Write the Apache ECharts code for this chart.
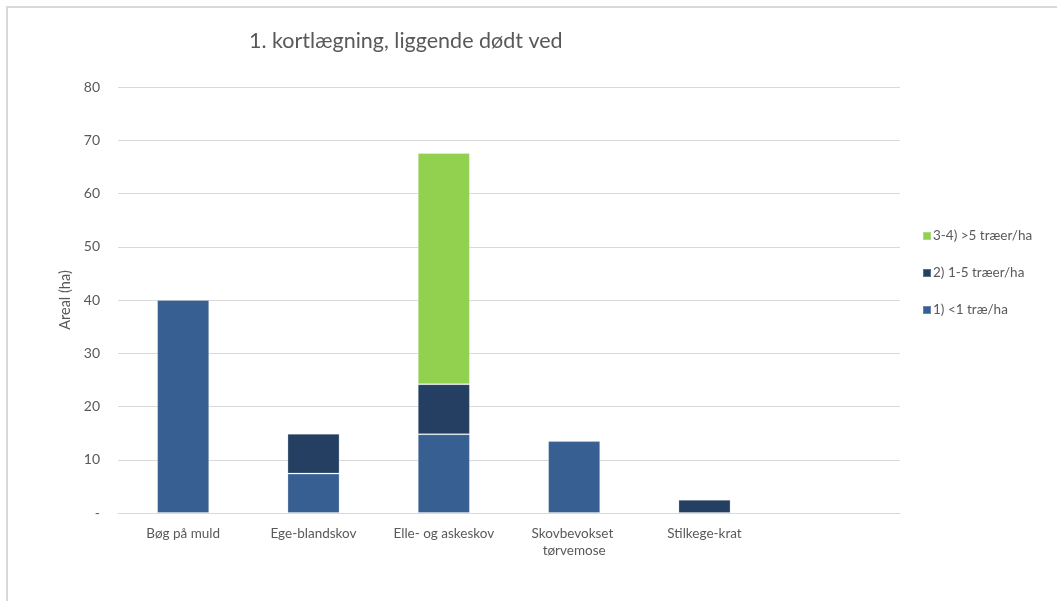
<!DOCTYPE html>
<html>
<head>
<meta charset="utf-8">
<script src="https://cdn.jsdelivr.net/npm/echarts@6/dist/echarts.min.js"></script>
<style>
  html, body { margin: 0; padding: 0; background: #fff; }
  #frame { position: absolute; left: 6px; top: 6px; width: 1060px; height: 610px;
           border-left: 2px solid #d9d9d9; border-top: 2px solid #d9d9d9; box-sizing: border-box; }
  #chart { position: absolute; left: 0; top: 0; width: 1057px; height: 601px; }
</style>
</head>
<body>
<div id="frame"></div>
<div id="chart"></div>
<script>
// Forest types (last slot is intentionally empty)
const categories = ['Bøg på muld', 'Ege-blandskov', 'Elle- og askeskov', 'Skovbevokset tørvemose', 'Stilkege-krat', ''];

// Area (ha) per dead-wood class
const under1 = [40.0, 7.4, 14.8, 13.5, 0, null];
const from1to5 = [0, 7.5, 9.4, 0, 2.5, null];
const over5 = [0, 0, 43.4, 0, 0, null];

const seriesNames = ['1) <1 træ/ha', '2) 1-5 træer/ha', '3-4) >5 træer/ha'];
const colors = ['#375f91', '#243f61', '#92d050'];
const yTicks = { min: 0, max: 80, interval: 10 };

const font = 'Lato, "Open Sans", sans-serif';
const textColor = '#595959';

const chart = echarts.init(document.getElementById('chart'));

function barSeries(name, data, color) {
  return {
    name: name,
    type: 'bar',
    stack: 'areal',
    data: data.map(v => (v === 0 ? null : v)),
    barWidth: '40%',
    itemStyle: { color: color, borderColor: 'rgba(255,255,255,0.25)', borderWidth: 1 },
    emphasis: { disabled: true }
  };
}

chart.setOption({
  animation: false,
  textStyle: { fontFamily: font },
  title: {
    text: '1. kortlægning, liggende dødt ved',
    left: 244,
    top: 25,
    textStyle: { fontFamily: font, fontSize: 21.5, fontWeight: 'normal', color: textColor }
  },
  legend: {
    orient: 'vertical',
    left: 917,
    top: 224,
    itemWidth: 8,
    itemHeight: 8,
    itemGap: 23,
    icon: 'rect',
    data: [seriesNames[2], seriesNames[1], seriesNames[0]],
    textStyle: { fontFamily: font, fontSize: 13.5, color: textColor, padding: [0, 0, 0, -3] }
  },
  grid: { left: 118, right: 157, top: 87, bottom: 88 },
  xAxis: {
    type: 'category',
    data: categories,
    axisLine: { show: true, lineStyle: { color: '#d9d9d9', width: 1 } },
    axisTick: { show: false },
    axisLabel: {
      interval: 0,
      margin: 12,
      width: 120,
      overflow: 'break',
      lineHeight: 17,
      fontSize: 13.5,
      color: textColor,
      fontFamily: font
    }
  },
  yAxis: {
    type: 'value',
    min: yTicks.min,
    max: yTicks.max,
    interval: yTicks.interval,
    name: 'Areal (ha)',
    nameLocation: 'middle',
    nameGap: 38,
    nameTextStyle: { fontSize: 14.5, color: textColor, fontFamily: font },
    axisLine: { show: false },
    axisTick: { show: false },
    axisLabel: {
      margin: 18,
      fontSize: 14,
      color: textColor,
      fontFamily: font,
      formatter: v => (v === 0 ? '-' : String(v))
    },
    splitLine: { lineStyle: { color: '#d9d9d9', width: 1 } }
  },
  series: [
    barSeries(seriesNames[0], under1, colors[0]),
    barSeries(seriesNames[1], from1to5, colors[1]),
    barSeries(seriesNames[2], over5, colors[2])
  ]
});
</script>
</body>
</html>
